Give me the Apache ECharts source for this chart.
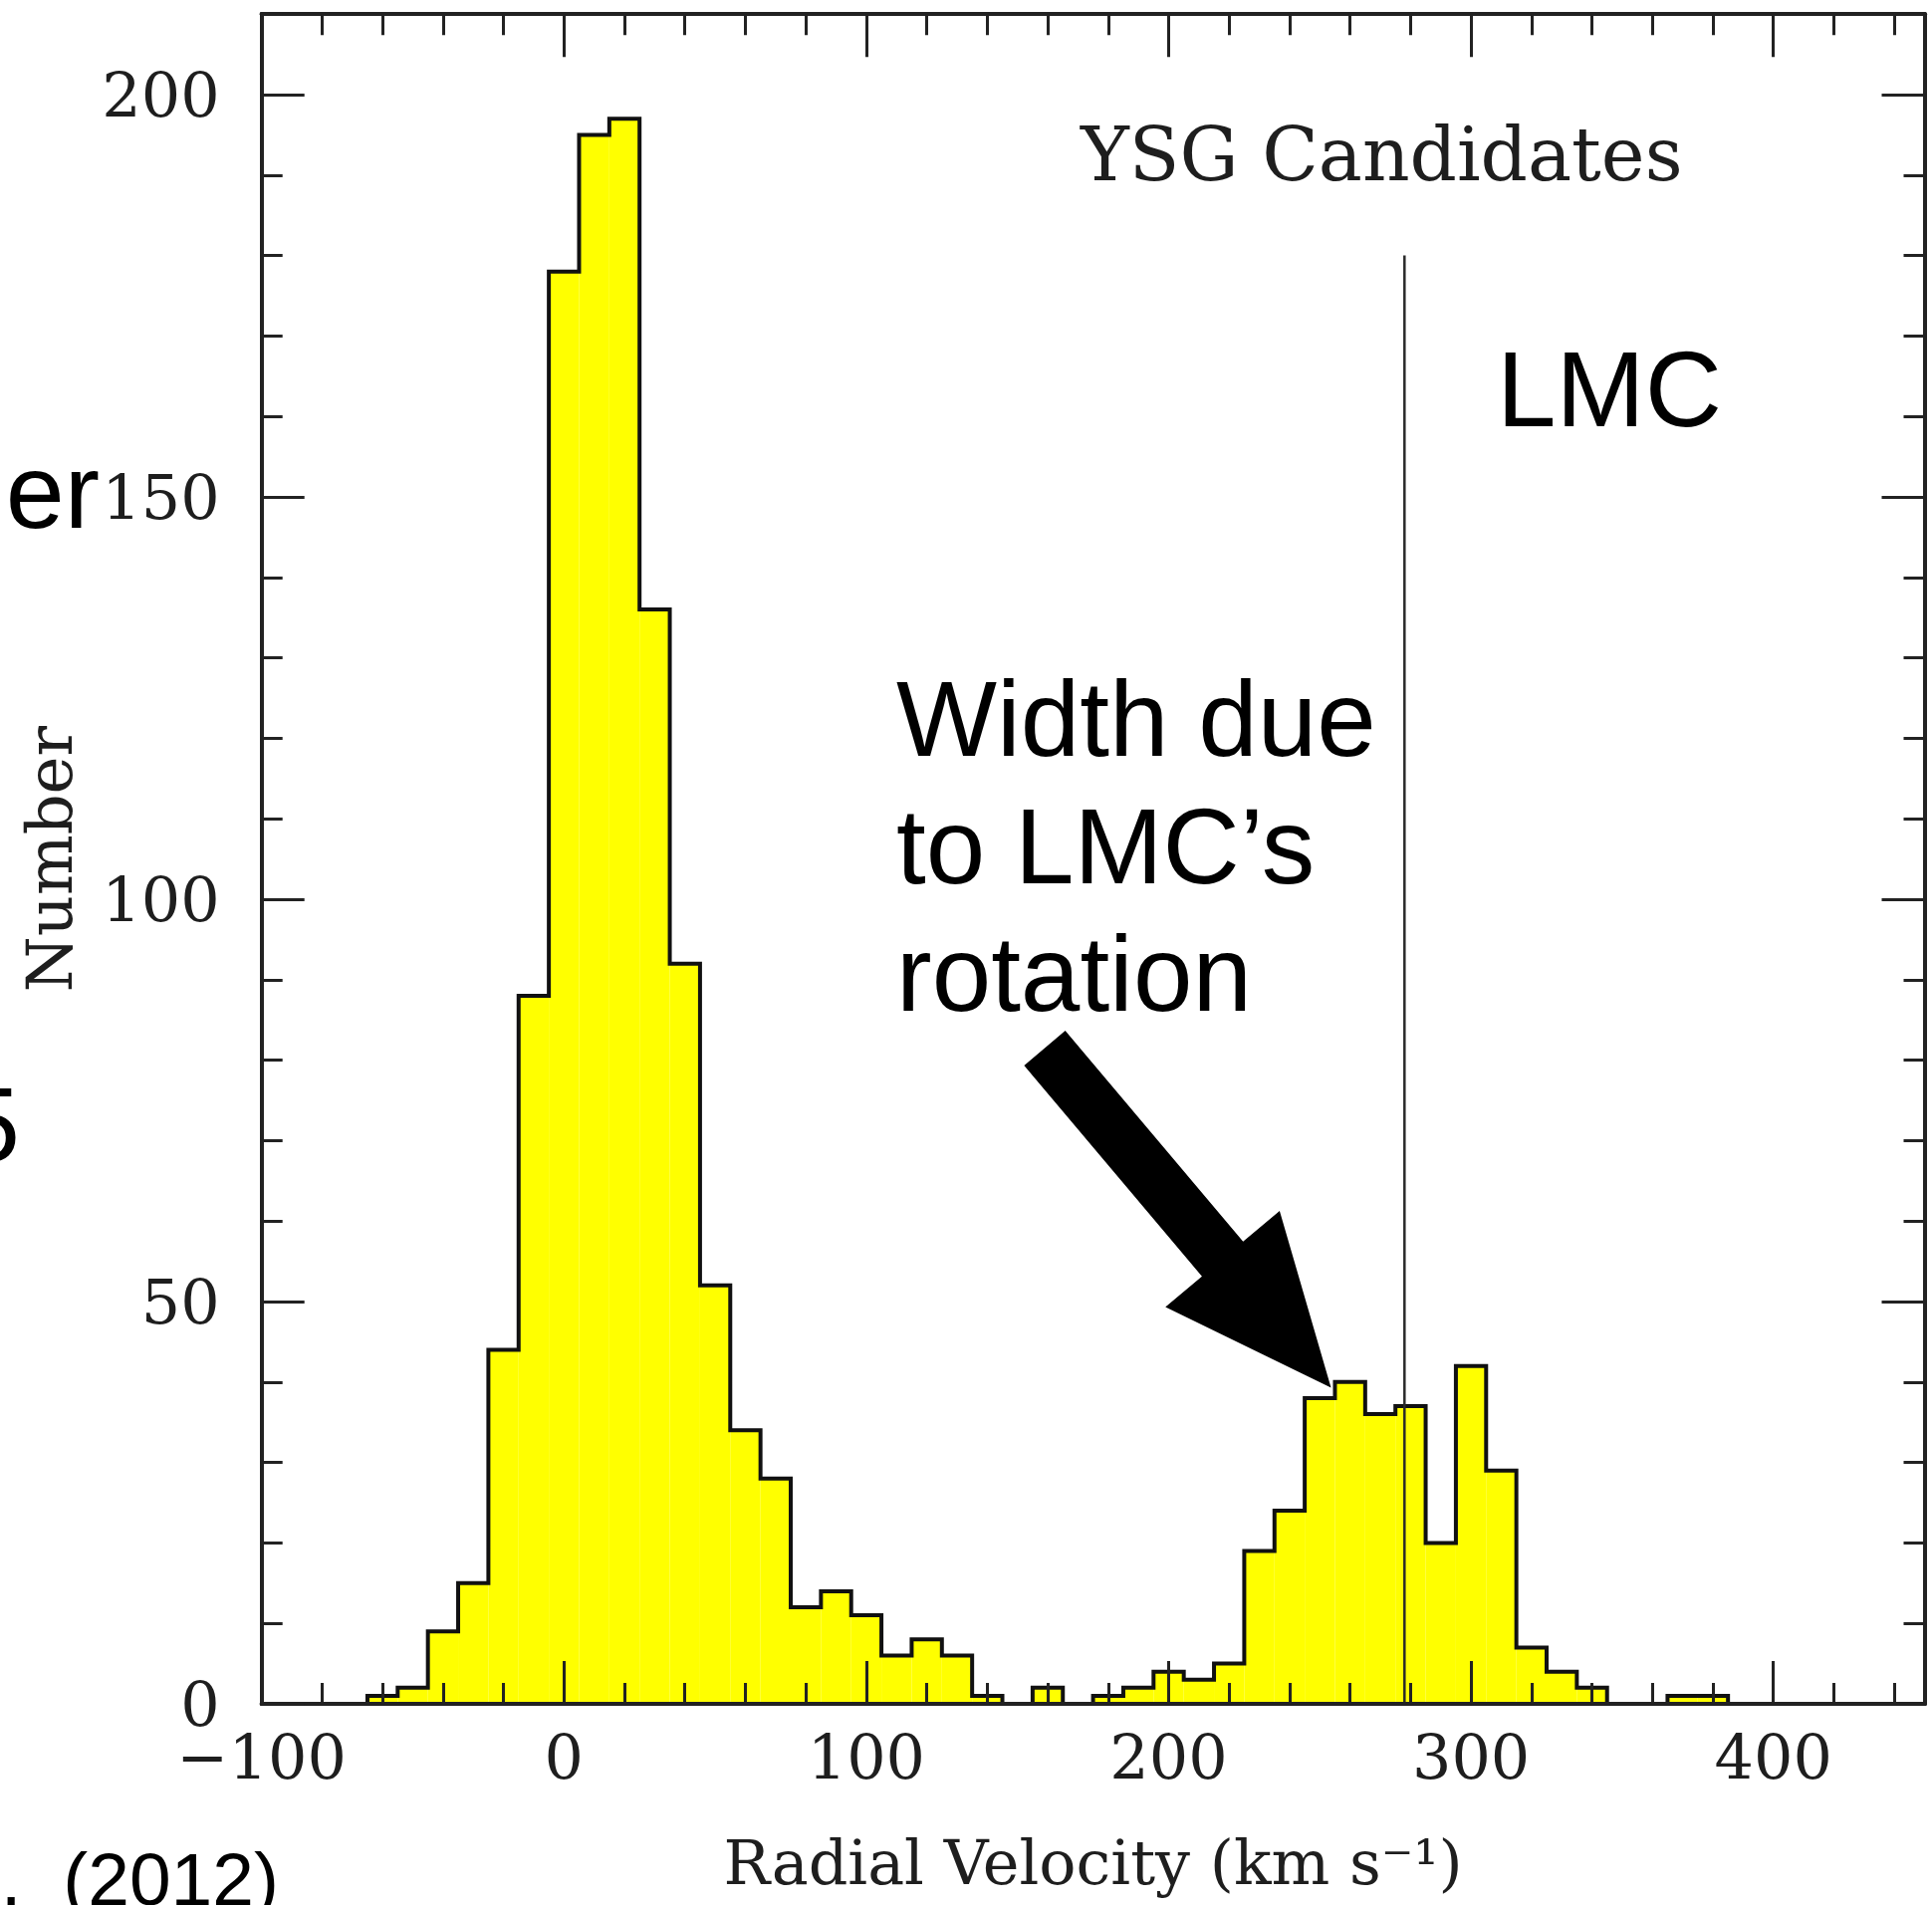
<!DOCTYPE html>
<html>
<head>
<meta charset="utf-8">
<script src="https://cdn.jsdelivr.net/npm/echarts@6/dist/echarts.min.js"></script>
<style>
  html, body { margin: 0; padding: 0; background: #ffffff; }
  #chart { width: 1940px; height: 1913px; }
</style>
</head>
<body>
<div id="chart"></div>
<script>
// Radial-velocity histogram of yellow supergiant candidates, 10 km/s bins.
const binCenters = [-60, -50, -40, -30, -20, -10, 0, 10, 20, 30, 40, 50, 60, 70, 80, 90,
                    100, 110, 120, 130, 140, 150, 160, 170, 180, 190, 200, 210, 220, 230,
                    240, 250, 260, 270, 280, 290, 300, 310, 320, 330, 340, 350, 360, 370, 380];
const counts     = [1, 2, 9, 15, 44, 88, 178, 195, 197, 136, 92, 52, 34, 28, 12, 14,
                    11, 6, 8, 6, 1, 0, 2, 0, 1, 2, 4, 3, 5, 19,
                    24, 38, 40, 36, 37, 20, 42, 29, 7, 4, 2, 0, 0, 1, 1];
const binWidth = 10;

// Tick values of the labelled axes
const xTickValues = [-100, 0, 100, 200, 300, 400];
const yTickValues = [0, 50, 100, 150, 200];
const xRange = [-100, 450];
const yRange = [0, 210];

// LMC systemic velocity marker
const lmcVelocity = 278;
const lmcMarkerTop = 180;

// Annotation arrow (data coordinates of its tail and tip)
const arrowTail = [159, 81.5];
const arrowTip = [253.7, 39.3];

const frameColor = '#222222';
const inkColor = '#1e1e1e';
const serif = '"DejaVu Serif", serif';
const sans = '"Liberation Sans", Arial, sans-serif';

// Bars and the step outline that traces their tops
const barData = binCenters.map((c, i) => [c, counts[i]]);
const outline = [[binCenters[0] - binWidth / 2, 0]];
binCenters.forEach((c, i) => {
  outline.push([c - binWidth / 2, counts[i]]);
  outline.push([c + binWidth / 2, counts[i]]);
});
outline.push([binCenters[binCenters.length - 1] + binWidth / 2, 0]);

function xAxisDef(position, interval, tickLen, withLabels) {
  return {
    type: 'value', position: position, min: xRange[0], max: xRange[1], interval: interval,
    z: 6,
    axisLine: { show: true, onZero: false, lineStyle: { color: frameColor, width: 4 } },
    axisTick: Object.assign({ show: true, inside: true, length: tickLen,
                lineStyle: { color: frameColor, width: 3 } },
                withLabels ? { customValues: xTickValues } : {}),
    axisLabel: withLabels ? {
      show: true, margin: 28, fontFamily: serif, fontSize: 62, color: inkColor,
      customValues: xTickValues,
      formatter: v => String(v).replace('-', '\u2212')
    } : { show: false },
    splitLine: { show: false },
    minorTick: { show: false }
  };
}
function yAxisDef(position, interval, tickLen, withLabels) {
  return {
    type: 'value', position: position, min: yRange[0], max: yRange[1], interval: interval,
    z: 6,
    axisLine: { show: true, onZero: false, lineStyle: { color: frameColor, width: 4 } },
    axisTick: Object.assign({ show: true, inside: true, length: tickLen,
                lineStyle: { color: frameColor, width: 3 } },
                withLabels ? { customValues: yTickValues } : {}),
    axisLabel: withLabels ? {
      show: true, margin: 42, fontFamily: serif, fontSize: 62, color: inkColor,
      customValues: yTickValues,
      formatter: v => '{t|' + v + '}',
      rich: { t: { fontFamily: serif, fontSize: 62, color: inkColor, padding: [12, 0, 0, 0] } }
    } : { show: false },
    splitLine: { show: false },
    minorTick: { show: false }
  };
}

const xMain = xAxisDef('bottom', 100, 43, true);
xMain.name = 'Radial Velocity (km s\u207B\u00B9)';
xMain.nameLocation = 'middle';
xMain.nameGap = 165;
xMain.nameTextStyle = { fontFamily: serif, fontSize: 62, color: inkColor, verticalAlign: 'middle' };

const yMain = yAxisDef('left', 50, 43, true);
yMain.name = 'Number';
yMain.nameLocation = 'middle';
yMain.nameGap = 207;
yMain.nameRotate = 90;
yMain.nameTextStyle = { fontFamily: serif, fontSize: 64, color: inkColor, verticalAlign: 'middle' };

const chart = echarts.init(document.getElementById('chart'), null, { renderer: 'canvas' });

chart.setOption({
  animation: false,
  backgroundColor: '#ffffff',
  grid: { left: 262.7, right: 7.5, top: 14.2, bottom: 202, containLabel: false },
  xAxis: [
    xMain,
    xAxisDef('bottom', 20, 21, false),
    xAxisDef('top', 100, 43, false),
    xAxisDef('top', 20, 21, false)
  ],
  yAxis: [
    yMain,
    yAxisDef('left', 10, 21, false),
    yAxisDef('right', 50, 43, false),
    yAxisDef('right', 10, 21, false)
  ],
  series: [
    {
      type: 'custom', xAxisIndex: 0, yAxisIndex: 0, z: 2,
      data: barData,
      renderItem: function (params, api) {
        const c = api.value(0), h = api.value(1);
        if (!h) return null;
        const p0 = api.coord([c - binWidth / 2, h]);
        const p1 = api.coord([c + binWidth / 2, 0]);
        return {
          type: 'rect',
          shape: { x: p0[0], y: p0[1], width: p1[0] - p0[0], height: p1[1] - p0[1] },
          style: { fill: '#ffff00', stroke: null }
        };
      }
    },
    {
      type: 'line', xAxisIndex: 0, yAxisIndex: 0, z: 3,
      data: outline, symbol: 'none', silent: true,
      lineStyle: { color: '#111111', width: 4, join: 'miter' }
    },
    {
      type: 'line', xAxisIndex: 0, yAxisIndex: 0, z: 4,
      data: [[lmcVelocity, 0], [lmcVelocity, lmcMarkerTop]], symbol: 'none', silent: true,
      lineStyle: { color: '#2a2a2a', width: 2.5 }
    }
  ]
});

// Annotations: panel label, LMC tag, rotation note with its arrow, and clipped slide text
function buildArrow() {
  const tail = chart.convertToPixel({ xAxisIndex: 0, yAxisIndex: 0 }, arrowTail);
  const tip = chart.convertToPixel({ xAxisIndex: 0, yAxisIndex: 0 }, arrowTip);
  const dx = tip[0] - tail[0], dy = tip[1] - tail[1];
  const len = Math.sqrt(dx * dx + dy * dy);
  const ux = dx / len, uy = dy / len, nx = -uy, ny = ux;
  const shaftHalf = 27, headHalf = 75, headLen = 169;
  const bx = tip[0] - ux * headLen, by = tip[1] - uy * headLen;
  return [
    [tail[0] + nx * shaftHalf, tail[1] + ny * shaftHalf],
    [bx + nx * shaftHalf, by + ny * shaftHalf],
    [bx + nx * headHalf, by + ny * headHalf],
    [tip[0], tip[1]],
    [bx - nx * headHalf, by - ny * headHalf],
    [bx - nx * shaftHalf, by - ny * shaftHalf],
    [tail[0] - nx * shaftHalf, tail[1] - ny * shaftHalf]
  ];
}

chart.setOption({
  graphic: [
    { type: 'text', left: 1085, top: 125, z: 10,
      style: { text: 'YSG Candidates', font: '74px ' + serif, fill: inkColor,
               verticalAlign: 'top' } },
    { type: 'text', x: 1503, y: 398, z: 10,
      style: { text: 'LMC', font: '107px ' + sans, fill: '#000000',
               align: 'left', verticalAlign: 'middle' } },
    { type: 'text', x: 900, y: 665, z: 10,
      style: { text: 'Width due\nto LMC\u2019s\nrotation', font: '107px ' + sans,
               lineHeight: 128, fill: '#000000', align: 'left', verticalAlign: 'top' } },
    { type: 'polygon', z: 10, silent: true,
      shape: { points: buildArrow() }, style: { fill: '#000000' } },
    { type: 'text', x: 100, y: 501, z: 10,
      style: { text: 'er', font: '106px ' + sans, fill: '#000000',
               align: 'right', verticalAlign: 'middle' } },
    { type: 'text', x: 20, y: 1137, z: 10,
      style: { text: '5', font: '106px ' + sans, fill: '#000000',
               align: 'right', verticalAlign: 'middle' } },
    { type: 'text', x: 280, y: 1892, z: 10,
      style: { text: '.  (2012)', font: '75px ' + sans, fill: '#000000',
               align: 'right', verticalAlign: 'middle' } }
  ]
});
</script>
</body>
</html>
